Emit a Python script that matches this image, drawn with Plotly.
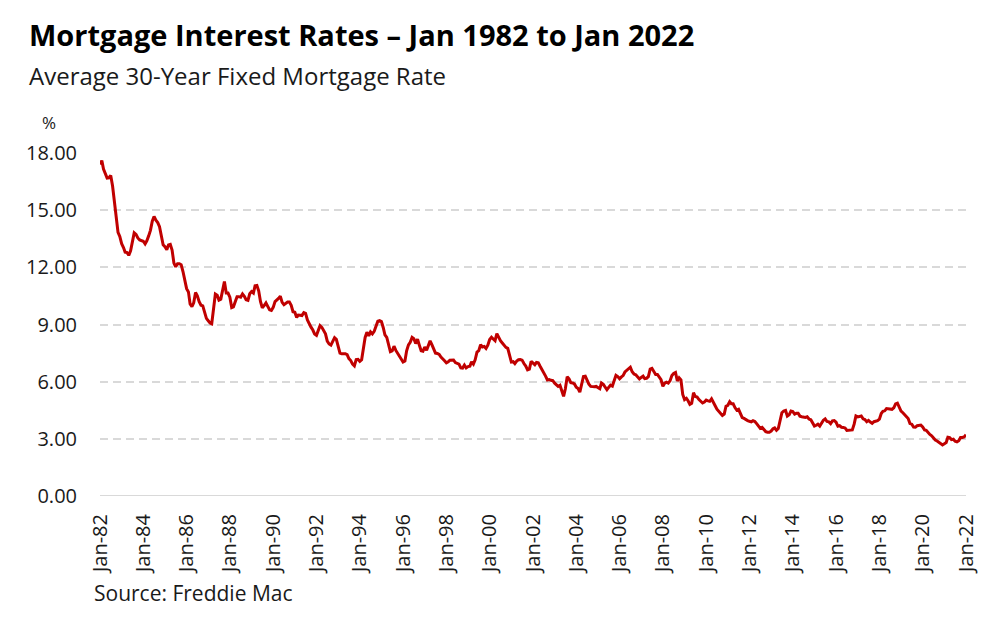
import plotly.graph_objects as go

years = list(range(1982, 2022))
rates_by_year = {
    1982: [17.40, 17.60, 17.16, 16.89, 16.68, 16.70, 16.82, 16.27, 15.43, 14.61, 13.83, 13.62],
    1983: [13.24, 13.04, 12.80, 12.78, 12.63, 12.87, 13.42, 13.81, 13.73, 13.54, 13.44, 13.42],
    1984: [13.37, 13.23, 13.39, 13.65, 13.94, 14.42, 14.67, 14.47, 14.35, 14.13, 13.64, 13.18],
    1985: [13.08, 12.92, 13.17, 13.20, 12.91, 12.22, 12.03, 12.19, 12.19, 12.14, 11.78, 11.26],
    1986: [10.88, 10.71, 10.08, 9.94, 10.14, 10.68, 10.51, 10.20, 10.01, 9.98, 9.70, 9.32],
    1987: [9.20, 9.08, 9.04, 9.83, 10.60, 10.54, 10.28, 10.33, 10.89, 11.26, 10.65, 10.65],
    1988: [10.43, 9.89, 9.93, 10.20, 10.46, 10.46, 10.43, 10.60, 10.48, 10.30, 10.27, 10.61],
    1989: [10.73, 10.65, 11.03, 11.05, 10.77, 10.20, 9.88, 9.99, 10.13, 9.95, 9.77, 9.74],
    1990: [9.90, 10.20, 10.27, 10.37, 10.48, 10.16, 10.04, 10.10, 10.18, 10.18, 10.01, 9.67],
    1991: [9.64, 9.37, 9.50, 9.49, 9.47, 9.62, 9.58, 9.24, 9.01, 8.86, 8.71, 8.50],
    1992: [8.43, 8.76, 8.94, 8.85, 8.67, 8.51, 8.13, 7.98, 7.92, 8.09, 8.31, 8.22],
    1993: [7.92, 7.50, 7.46, 7.46, 7.47, 7.42, 7.21, 7.11, 6.92, 6.83, 7.16, 7.17],
    1994: [7.06, 7.15, 7.68, 8.32, 8.60, 8.40, 8.61, 8.51, 8.64, 8.93, 9.17, 9.20],
    1995: [9.15, 8.83, 8.46, 8.32, 7.96, 7.57, 7.61, 7.86, 7.64, 7.48, 7.38, 7.20],
    1996: [7.03, 7.08, 7.62, 7.93, 8.07, 8.32, 8.25, 8.00, 8.23, 7.92, 7.62, 7.60],
    1997: [7.82, 7.65, 7.90, 8.14, 7.94, 7.69, 7.50, 7.48, 7.43, 7.29, 7.21, 7.10],
    1998: [6.99, 7.04, 7.13, 7.14, 7.14, 7.00, 6.95, 6.92, 6.72, 6.71, 6.87, 6.72],
    1999: [6.79, 6.81, 7.04, 6.92, 7.15, 7.55, 7.63, 7.94, 7.82, 7.85, 7.74, 7.91],
    2000: [8.21, 8.33, 8.24, 8.15, 8.52, 8.29, 8.15, 8.03, 7.91, 7.80, 7.75, 7.38],
    2001: [7.03, 7.05, 6.95, 7.08, 7.15, 7.16, 7.13, 6.95, 6.82, 6.62, 6.66, 7.07],
    2002: [7.00, 6.89, 7.01, 6.99, 6.81, 6.65, 6.49, 6.29, 6.09, 6.11, 6.07, 6.05],
    2003: [5.92, 5.84, 5.75, 5.81, 5.48, 5.23, 5.63, 6.26, 6.15, 5.95, 5.93, 5.88],
    2004: [5.71, 5.64, 5.45, 5.83, 6.27, 6.29, 6.06, 5.87, 5.75, 5.72, 5.73, 5.75],
    2005: [5.71, 5.63, 5.93, 5.86, 5.72, 5.58, 5.70, 5.82, 5.77, 6.07, 6.33, 6.27],
    2006: [6.15, 6.25, 6.32, 6.51, 6.60, 6.68, 6.76, 6.52, 6.40, 6.36, 6.24, 6.14],
    2007: [6.22, 6.29, 6.16, 6.18, 6.26, 6.66, 6.70, 6.57, 6.38, 6.38, 6.21, 6.10],
    2008: [5.76, 5.92, 5.97, 5.92, 6.04, 6.32, 6.43, 6.48, 6.04, 6.20, 6.09, 5.33],
    2009: [5.06, 5.13, 5.00, 4.81, 4.86, 5.42, 5.22, 5.19, 5.06, 4.95, 4.88, 4.93],
    2010: [5.03, 4.99, 4.97, 5.10, 4.89, 4.74, 4.56, 4.43, 4.35, 4.23, 4.30, 4.71],
    2011: [4.76, 4.95, 4.84, 4.84, 4.64, 4.51, 4.55, 4.27, 4.11, 4.07, 3.99, 3.96],
    2012: [3.92, 3.89, 3.95, 3.91, 3.80, 3.68, 3.55, 3.60, 3.50, 3.38, 3.35, 3.35],
    2013: [3.41, 3.53, 3.57, 3.45, 3.54, 4.07, 4.37, 4.46, 4.49, 4.19, 4.26, 4.46],
    2014: [4.43, 4.30, 4.34, 4.34, 4.19, 4.16, 4.13, 4.12, 4.16, 4.04, 4.00, 3.86],
    2015: [3.67, 3.71, 3.77, 3.67, 3.84, 3.98, 4.05, 3.91, 3.89, 3.80, 3.94, 3.96],
    2016: [3.87, 3.66, 3.69, 3.61, 3.60, 3.57, 3.44, 3.44, 3.46, 3.47, 3.77, 4.20],
    2017: [4.15, 4.17, 4.20, 4.05, 4.01, 3.90, 3.97, 3.88, 3.81, 3.90, 3.92, 3.95],
    2018: [4.03, 4.33, 4.44, 4.47, 4.59, 4.57, 4.53, 4.55, 4.63, 4.83, 4.87, 4.64],
    2019: [4.46, 4.37, 4.27, 4.14, 4.07, 3.80, 3.77, 3.62, 3.61, 3.69, 3.70, 3.72],
    2020: [3.62, 3.47, 3.45, 3.31, 3.23, 3.16, 3.02, 2.94, 2.89, 2.83, 2.77, 2.68],
    2021: [2.74, 2.81, 3.08, 3.06, 2.96, 2.98, 2.87, 2.84, 2.90, 3.07, 3.07, 3.10],
}
final_date = "2022-01-01"
final_rate = 3.22

dates = []
rates = []
for y in years:
    for m, r in enumerate(rates_by_year[y], start=1):
        dates.append(f"{y}-{m:02d}-01")
        rates.append(r)
dates.append(final_date)
rates.append(final_rate)

tick_dates = [f"{y}-01-01" for y in range(1982, 2023, 2)]
tick_labels = [f"Jan-{str(y)[2:]}" for y in range(1982, 2023, 2)]
y_ticks = [0, 3, 6, 9, 12, 15, 18]

# plot-area geometry (px) used only to place the text annotations
L, R, T, B = 100, 35, 153, 123
PW, PH = 1001 - L - R, 619 - T - B

fig = go.Figure()
fig.add_trace(go.Scatter(
    x=dates, y=rates, mode="lines",
    line=dict(color="#C00000", width=3),
    hoverinfo="x+y", showlegend=False,
))

fig.update_layout(
    width=1001, height=619,
    margin=dict(l=L, r=R, t=T, b=B),
    paper_bgcolor="white", plot_bgcolor="white",
    font=dict(family="Open Sans", color="#1a1a1a"),
    xaxis=dict(
        type="date", range=["1982-01-01", "2022-01-01"],
        tickvals=tick_dates, ticktext=tick_labels, tickangle=-90,
        tickfont=dict(family="Open Sans", size=20, color="#1a1a1a"),
        showgrid=False, zeroline=False, showline=False, ticks="",
        ticklabelstandoff=13,
    ),
    yaxis=dict(
        range=[0, 18], tickvals=y_ticks,
        ticktext=[f"{v:.2f}" for v in y_ticks],
        tickfont=dict(family="Open Sans", size=20, color="#1a1a1a"),
        showgrid=True, gridcolor="#d9d9d9", gridwidth=1.5, griddash="8px,5px",
        zeroline=False, showline=False, ticks="", ticklabelstandoff=22,
    ),
)


def px_x(x):
    return (x - L) / PW


def px_y(y):
    return (619 - B - y) / PH


fig.add_annotation(text="<b>Mortgage Interest Rates – Jan 1982 to Jan 2022</b>",
                   xref="paper", yref="paper", x=px_x(27), y=px_y(35),
                   xanchor="left", yanchor="middle", showarrow=False,
                   font=dict(family="Open Sans", size=29, color="#000000"))
fig.add_annotation(text="Average 30-Year Fixed Mortgage Rate",
                   xref="paper", yref="paper", x=px_x(27), y=px_y(75),
                   xanchor="left", yanchor="middle", showarrow=False,
                   font=dict(family="Open Sans", size=24, color="#1a1a1a"))
fig.add_annotation(text="%",
                   xref="paper", yref="paper", x=px_x(40), y=px_y(123),
                   xanchor="left", yanchor="middle", showarrow=False,
                   font=dict(family="Open Sans", size=17, color="#1a1a1a"))
fig.add_annotation(text="Source: Freddie Mac",
                   xref="paper", yref="paper", x=px_x(92), y=px_y(593),
                   xanchor="left", yanchor="middle", showarrow=False,
                   font=dict(family="Open Sans", size=21, color="#1a1a1a"))
# solid zero baseline
fig.add_shape(type="line", xref="paper", yref="y", x0=0, x1=1, y0=0, y1=0,
              line=dict(color="#d9d9d9", width=2))

fig.write_html("out.html", config={"displayModeBar": False},
               post_script="document.body.style.margin='0';")
